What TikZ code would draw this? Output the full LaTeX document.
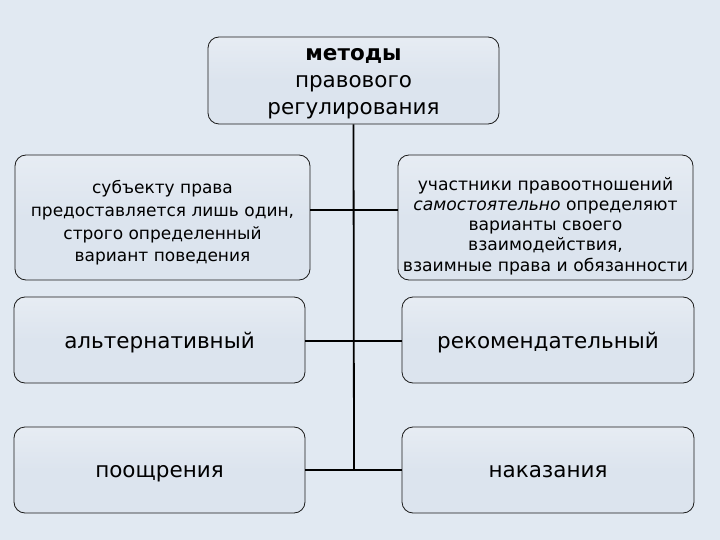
\documentclass[tikz,border=0pt]{standalone}
\usepackage{fontspec}
\setmainfont{DejaVu Sans}
\definecolor{bgc}{HTML}{E1E9F2}
\definecolor{boxc}{HTML}{DCE4EE}
\definecolor{linec}{HTML}{1A1A1A}
\newcommand{\shiftedtext}[2]{\raisebox{#1}[0pt][0pt]{\begin{tabular}{@{}c@{}}#2\end{tabular}}}
\begin{document}
\begin{tikzpicture}[x=1pt,y=-1pt,
  box/.style={draw=linec,line width=0.8pt,rounded corners=11pt,
    top color=boxc!70!white,bottom color=boxc,middle color=boxc,
    inner sep=0pt,align=center,text=black},
  small/.style={font=\fontsize{17}{22.7}\selectfont},
  big/.style={font=\fontsize{21.5}{27}\selectfont},
  conn/.style={draw=black,line width=1.8pt}]
\fill[bgc] (0,0) rectangle (720,540);
\useasboundingbox (0,0) rectangle (720,540);

\node[box,big,minimum width=291pt,minimum height=87pt] (top) at (353.5,80.5)
  {\shiftedtext{-7pt}{\textbf{методы}\\правового\\регулирования}};
\node[box,small,minimum width=295pt,minimum height=125pt] (l1) at (162.5,217.5)
  {\shiftedtext{-10pt}{субъекту права\\предоставляется лишь один,\\строго определенный\\вариант поведения}};
\node[box,font=\fontsize{17.2}{20.2}\selectfont,minimum width=295pt,minimum height=125pt] (r1) at (545.5,217.5)
  {\shiftedtext{-13.5pt}{участники правоотношений\\\textit{самостоятельно} определяют\\варианты своего\\взаимодействия,\\взаимные права и обязанности}};
\node[box,big,minimum width=291pt,minimum height=86pt] (l2) at (159.5,340) {\shiftedtext{-8pt}{альтернативный}};
\node[box,big,minimum width=292pt,minimum height=86pt] (r2) at (548,340) {\shiftedtext{-8pt}{рекомендательный}};
\node[box,big,minimum width=291pt,minimum height=86pt] (l3) at (159.5,470) {\shiftedtext{-7pt}{поощрения}};
\node[box,big,minimum width=292pt,minimum height=86pt] (r3) at (548,470) {\shiftedtext{-7pt}{наказания}};

\coordinate (j1) at (354,210);
\coordinate (j2) at (354,341);
\coordinate (j3) at (354,470);
\draw[conn] (top.south) -- (j3);
\draw[conn] (l1.east |- j1) -- (r1.west |- j1);
\draw[conn] (l2.east |- j2) -- (r2.west |- j2);
\draw[conn] (l3.east |- j3) -- (r3.west |- j3);
\end{tikzpicture}
\end{document}
